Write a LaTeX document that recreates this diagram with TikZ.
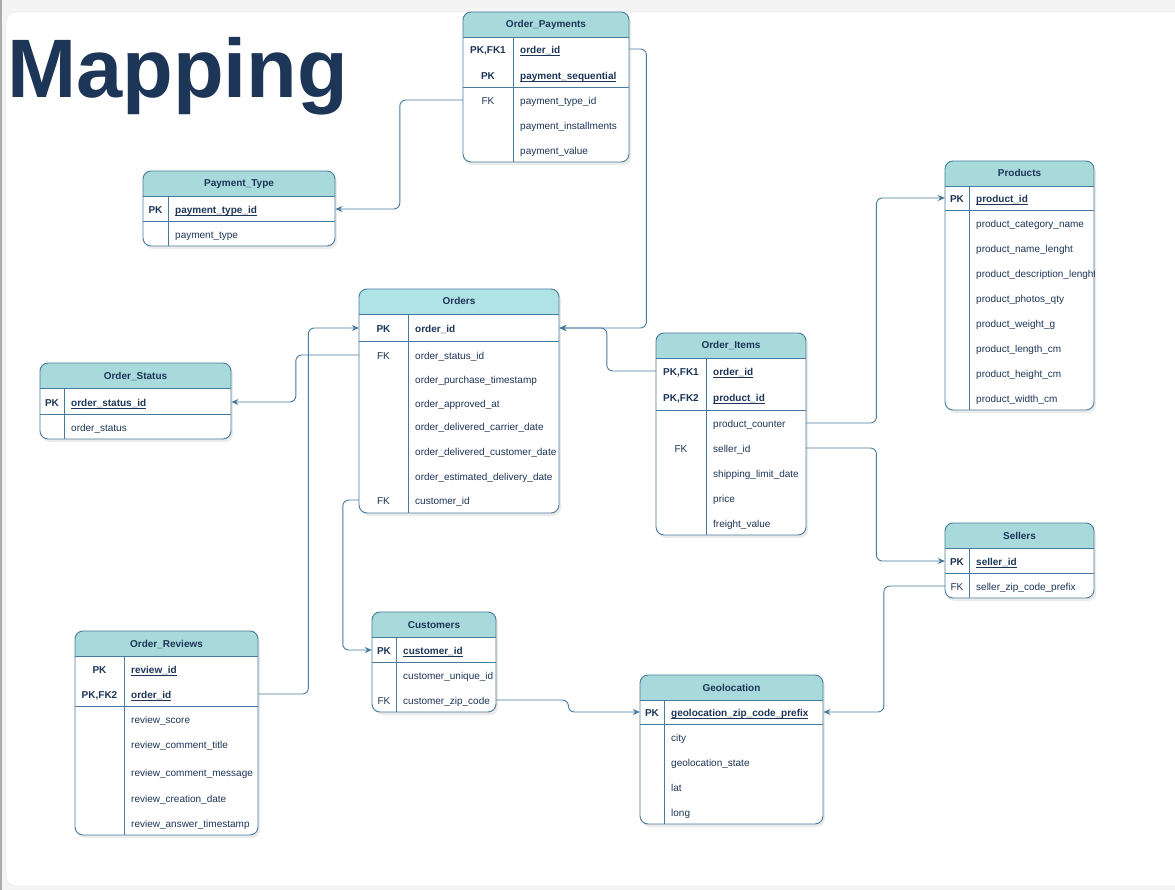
\documentclass[tikz,border=0pt]{standalone}
\usepackage{fontspec}
\setmainfont{Liberation Sans}
\usepackage{xcolor}
\usepackage{tikz}
\usetikzlibrary{arrows.meta}
\definecolor{hdrA}{HTML}{A8DADC}
\definecolor{hdrB}{HTML}{B0E3E6}
\definecolor{line}{HTML}{457B9D}
\definecolor{ink}{HTML}{1D3557}
\definecolor{paper}{HTML}{F4F4F4}
\pgfkeys{tikz/tline/.style={draw=line,line width=0.9pt}}
\pgfkeys{tikz/hdrtext/.style={text=ink,font=\fontsize{10}{12}\selectfont\bfseries,inner sep=0pt,text height=8pt,text depth=1pt}}
\pgfkeys{tikz/keycell/.style={text=ink,font=\fontsize{10}{12}\selectfont,inner sep=0pt,text height=10pt,text depth=1pt}}
\pgfkeys{tikz/fieldcell/.style={text=ink,font=\fontsize{10}{12}\selectfont,inner xsep=7pt,inner ysep=0pt,text height=10pt,text depth=1pt,align=left,anchor=west}}
\pgfkeys{tikz/fk/.style={draw=line,line width=0.9pt,rounded corners=6pt,-{Stealth[length=7pt,width=6pt]}}}
\newcommand{\keyfield}[1]{\textbf{\setbox0\hbox{#1}\rlap{\rule[-1.8pt]{\wd0}{0.6pt}}\box0}}
\newcommand{\ertable}[9]{%
  \fill[black,opacity=0.08,rounded corners=8pt] (#2+2,#3+3) rectangle (#4+2,#5+3);
  \fill[white,rounded corners=8pt] (#2,#3) rectangle (#4,#5);
  \begin{scope}
    \clip[rounded corners=8pt] (#2,#3) rectangle (#4,#5);
    \fill[#8] (#2,#3) rectangle (#4,#3+25);
  \end{scope}
  \draw[tline] (#2,#3+25) -- (#4,#3+25) (#6,#3+25) -- (#6,#5) (#2,#7) -- (#4,#7);
  \draw[tline,rounded corners=8pt] (#2,#3) rectangle (#4,#5);
  \node[hdrtext] (#1) at ({(#2+#4)/2},#3+12.5) {#9};
}
\newcommand{\errows}[7]{%
  \pgfmathsetmacro\kw{#3-#2}
  \pgfmathsetmacro\tw{#4-#3-14}
  \begin{scope}
    \clip (#2,#5) rectangle (#4,#6);
    \foreach \kl/\fl/\yl [count=\i] in {#7} {
      \node[keycell,minimum width=\kw pt] (#1k\i) at ({(#2+#3)/2},\yl) {\kl};
      \node[fieldcell,text width=\tw pt] (#1\i) at (#3,\yl) {\fl};
    }
  \end{scope}
}

\begin{document}
\begin{tikzpicture}[x=1pt,y=-1pt]
\useasboundingbox (0,0) rectangle (1175,890);
\fill[paper] (0,0) rectangle (1175,890);
\fill[gray!65] (0,0) rectangle (2,890);
\fill[white,draw=black!10,rounded corners=10pt] (6,12) rectangle (1195,886);
\node[font=\fontsize{83}{90}\selectfont\bfseries,text=ink,anchor=base west,inner sep=0pt] (title) at (7,98) {Mapping};

\ertable{pay}{463}{12}{629}{162}{513}{87}{hdrA}{Order\_Payments}
\errows{pay}{463}{513}{629}{37}{162}{{\textbf{PK,FK1}}/\keyfield{order\_id}/49,
  \textbf{PK}/\keyfield{payment\_sequential}/75, FK/payment\_type\_id/100,
  {}/payment\_installments/125, {}/payment\_value/150}

\ertable{ptype}{143}{171}{335}{246}{168}{221}{hdrA}{Payment\_Type}
\errows{pt}{143}{168}{335}{196}{246}{\textbf{PK}/\keyfield{payment\_type\_id}/209, {}/payment\_type/234}

\ertable{orders}{359}{289}{559}{513}{408}{341}{hdrB}{Orders}
\errows{ord}{359}{408}{559}{314}{513}{\textbf{PK}/\textbf{order\_id}/328, FK/order\_status\_id/355,
  {}/order\_purchase\_timestamp/379, {}/order\_approved\_at/403,
  {}/order\_delivered\_carrier\_date/426, {}/order\_delivered\_customer\_date/451,
  {}/order\_estimated\_delivery\_date/476, FK/customer\_id/500}

\ertable{status}{40}{363}{231}{439}{64}{414}{hdrA}{Order\_Status}
\errows{st}{40}{64}{231}{388}{439}{\textbf{PK}/\keyfield{order\_status\_id}/402, {}/order\_status/427}

\ertable{items}{656}{333}{806}{535}{706}{410}{hdrA}{Order\_Items}
\errows{it}{656}{706}{806}{358}{535}{{\textbf{PK,FK1}}/\keyfield{order\_id}/371,
  {\textbf{PK,FK2}}/\keyfield{product\_id}/397, {}/product\_counter/423, FK/seller\_id/448,
  {}/shipping\_limit\_date/473, {}/price/498, {}/freight\_value/523}

\ertable{products}{945}{161}{1094}{410}{969}{210}{hdrA}{Products}
\errows{pr}{945}{969}{1094}{186}{410}{\textbf{PK}/\keyfield{product\_id}/198,
  {}/product\_category\_name/223, {}/product\_name\_lenght/248,
  {}/product\_description\_lenght/273, {}/product\_photos\_qty/298,
  {}/product\_weight\_g/323, {}/product\_length\_cm/348,
  {}/product\_height\_cm/373, {}/product\_width\_cm/398}

\ertable{sellers}{945}{523}{1094}{598}{969}{573}{hdrA}{Sellers}
\errows{sl}{945}{969}{1094}{548}{598}{\textbf{PK}/\keyfield{seller\_id}/561, FK/seller\_zip\_code\_prefix/586}

\ertable{customers}{372}{612}{496}{712}{396}{662}{hdrA}{Customers}
\errows{cu}{372}{396}{496}{637}{712}{\textbf{PK}/\keyfield{customer\_id}/650,
  {}/customer\_unique\_id/675, FK/customer\_zip\_code/700}

\ertable{geoloc}{640}{675}{823}{824}{664}{724}{hdrA}{Geolocation}
\errows{geo}{640}{664}{823}{700}{824}{\textbf{PK}/\keyfield{geolocation\_zip\_code\_prefix}/712,
  {}/city/737, {}/geolocation\_state/762, {}/lat/787, {}/long/812}

\ertable{reviews}{75}{631}{258}{835}{124}{706}{hdrA}{Order\_Reviews}
\errows{rv}{75}{124}{258}{656}{835}{\textbf{PK}/\keyfield{review\_id}/669,
  {\textbf{PK,FK2}}/\keyfield{order\_id}/694, {}/review\_score/719,
  {}/review\_comment\_title/744, {}/review\_comment\_message/772,
  {}/review\_creation\_date/798, {}/review\_answer\_timestamp/823}

\draw[fk] (payk3.west) -- ++(-63,0) |- (pt1.east);
\draw[fk] (pay1.east) -- ++(17,0) |- (ord1.east);
\draw[fk] (itk1.west) -- ++(-49,0) |- (ord1.east);
\draw[fk] (ordk2.west) -- ++(-63,0) |- (st1.east);
\draw[fk] (rv2.east) -- ++(50,0) |- (ordk1.west);
\draw[fk] (ordk8.west) -- ++(-16,0) |- (cuk1.west);
\draw[fk] (cu3.east) -- ++(72,0) |- (geok1.west);
\draw[fk] (slk2.west) -- ++(-61,0) |- (geo1.east);
\draw[fk] (it3.east) -- ++(70,0) |- (prk1.west);
\draw[fk] (it4.east) -- ++(70,0) |- (slk1.west);

\end{tikzpicture}
\end{document}
